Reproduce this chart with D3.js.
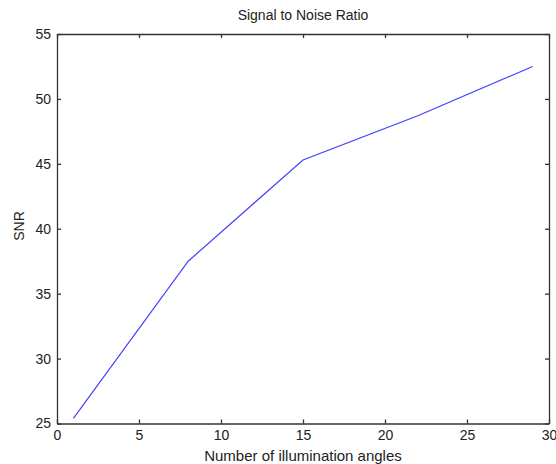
<!DOCTYPE html>
<html lang="en">
  <head>
    <meta charset="UTF-8">
    <title>Signal to Noise Ratio</title>
    <script src="https://cdn.jsdelivr.net/npm/d3@7"></script>
    <style>
      html, body {
        margin: 0;
        padding: 0;
        background: #fff;
      }
      body {
        font-family: 'Liberation Sans', Arial, sans-serif;
      }
      .tick text {
        font-size: 14px;
        fill: #222;
      }
      .label {
        font-size: 13px;
        fill: #222;
      }
    </style>
  </head>
  <body>
    <script>
      // data
      const angles = [1, 8, 15, 22, 29];
      const snr = [25.4, 37.5, 45.3, 48.7, 52.5];
      const xTicks = [0, 5, 10, 15, 20, 25, 30];
      const yTicks = [25, 30, 35, 40, 45, 50, 55];

      const width = 556, height = 464;
      const plotLeft = 57, plotRight = 549, plotTop = 34, plotBottom = 423.5;

      const svg = d3.select("body")
        .append("svg")
        .attr("width", width)
        .attr("height", height);

      const x = d3.scaleLinear().domain([0, 30]).range([plotLeft, plotRight]);
      const y = d3.scaleLinear().domain([25, 55]).range([plotBottom, plotTop]);

      const axisColor = "#333";

      // bottom and top axes, ticks pointing inward
      svg.append("g")
        .attr("transform", `translate(0,${plotBottom})`)
        .call(d3.axisBottom(x).tickValues(xTicks).tickSize(-4).tickPadding(7).tickSizeOuter(0))
        .call(g => g.selectAll(".tick text").attr("dy", "0.71em"));
      svg.append("g")
        .attr("transform", `translate(0,${plotTop})`)
        .call(d3.axisTop(x).tickValues(xTicks).tickSize(-4).tickFormat("").tickSizeOuter(0));

      // left and right axes
      svg.append("g")
        .attr("transform", `translate(${plotLeft},0)`)
        .call(d3.axisLeft(y).tickValues(yTicks).tickSize(-4).tickPadding(6).tickSizeOuter(0));
      svg.append("g")
        .attr("transform", `translate(${plotRight},0)`)
        .call(d3.axisRight(y).tickValues(yTicks).tickSize(-4).tickFormat("").tickSizeOuter(0));

      svg.selectAll(".domain, .tick line").attr("stroke", axisColor).attr("stroke-width", 1.3);

      // line
      const line = d3.line()
        .x((d, i) => x(angles[i]))
        .y(d => y(d));

      svg.append("path")
        .datum(snr)
        .attr("d", line)
        .attr("fill", "none")
        .attr("stroke", "#4040ff")
        .attr("stroke-width", 1.2);

      // labels
      svg.append("text")
        .attr("class", "label")
        .attr("x", (plotLeft + plotRight) / 2)
        .attr("y", 20)
        .attr("text-anchor", "middle")
        .style("font-size", "14px")
        .text("Signal to Noise Ratio");

      svg.append("text")
        .attr("class", "label")
        .attr("x", (plotLeft + plotRight) / 2)
        .attr("y", 461)
        .attr("text-anchor", "middle")
        .style("font-size", "15px")
        .text("Number of illumination angles");

      svg.append("text")
        .attr("class", "label")
        .attr("transform", "translate(24,226) rotate(-90)")
        .attr("text-anchor", "middle")
        .style("font-size", "14px")
        .text("SNR");
    </script>
  </body>
</html>
